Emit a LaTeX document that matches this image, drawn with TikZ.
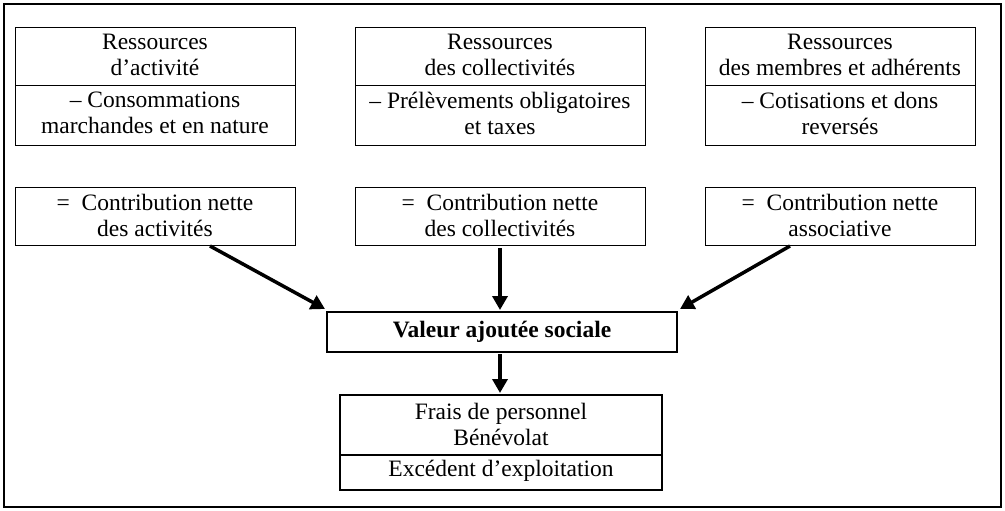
\documentclass[tikz,border=0pt]{standalone}
\usepackage{fontspec}
\setmainfont{Liberation Serif}
\usetikzlibrary{arrows.meta}
\begin{document}
\begin{tikzpicture}[x=1pt,y=-1pt,
  txt/.style={align=center,font=\fontsize{23.5}{26}\selectfont,inner sep=0pt},
  arr/.style={line width=3.5pt,-{Triangle[length=14pt,width=15pt]}}]
\useasboundingbox (0,0) rectangle (1005,511);
\draw[line width=2pt] (4,4) rectangle (1001,507);
% top boxes
\foreach \n/\a/\b/\t/\u in {
 1/15/295/{Ressources\\d'activité}/{– Consommations\\marchandes et en nature},
 2/355/645/{Ressources\\des collectivités}/{– Prélèvements obligatoires\\et taxes},
 3/705/975/{Ressources\\des membres et adhérents}/{– Cotisations et dons\\reversés}}{
 \draw[line width=0.8pt] (\a,27) rectangle (\b,145);
 \draw[line width=0.8pt] (\a,85) -- (\b,85);
 \node[txt] (t\n) at ({(\a+\b)/2},55) {\t};
 \node[txt] (u\n) at ({(\a+\b)/2},113) {\u};
}
\foreach \n/\a/\b/\t in {
 1/15/295/{= \ Contribution nette\\des activités},
 2/355/645/{= \ Contribution nette\\des collectivités},
 3/705/975/{= \ Contribution nette\\associative}}{
 \draw[line width=0.8pt] (\a,187) rectangle (\b,245);
 \node[txt] (m\n) at ({(\a+\b)/2},215) {\t};
}
\draw[line width=2pt] (327,312) rectangle (677,352);
\node[txt,font=\fontsize{23.5}{26}\selectfont\bfseries] (v) at (502,332) {Valeur ajoutée sociale};
\draw[line width=1.2pt] (340,395) rectangle (662,490);
\draw[line width=1.2pt] (340,455) -- (662,455);
\node[txt] (f) at (501,424) {Frais de personnel\\Bénévolat};
\node[txt] (e) at (501,471) {Excédent d'exploitation};
\coordinate (a1) at (210,246); \coordinate (b1) at (325,309);
\coordinate (a2) at (500,248); \coordinate (b2) at (500,310);
\coordinate (a3) at (790,246); \coordinate (b3) at (680,309);
\coordinate (a4) at (500,354); \coordinate (b4) at (500,393);
\draw[arr] (a1) -- (b1);
\draw[arr] (a2) -- (b2);
\draw[arr] (a3) -- (b3);
\draw[arr] (a4) -- (b4);
\end{tikzpicture}
\end{document}
